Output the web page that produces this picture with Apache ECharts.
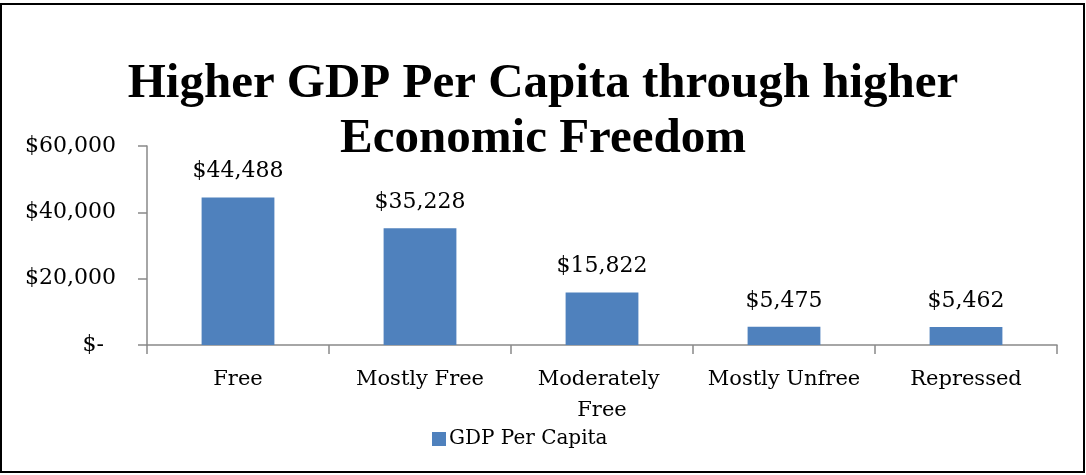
<!DOCTYPE html>
<html>
<head>
<meta charset="utf-8">
<script src="https://cdn.jsdelivr.net/npm/echarts@6/dist/echarts.min.js"></script>
<style>
html,body{margin:0;padding:0;background:#fff;}
#c{width:1086px;height:475px;}
</style>
</head>
<body>
<div id="c"></div>
<script>
const titleText = "Higher GDP Per Capita through higher\nEconomic Freedom";
const categories = ["Free", "Mostly Free", "Moderately Free", "Mostly Unfree", "Repressed"];
const seriesName = "GDP Per Capita";
const gdpPerCapita = [44488, 35228, 15822, 5475, 5462];
const yTicks = [0, 20000, 40000, 60000];

function money(v) {
  if (v === 0) return "$-";
  return "$" + v.toLocaleString("en-US");
}

const chart = echarts.init(document.getElementById("c"));
chart.setOption({
  animation: false,
  backgroundColor: "#fff",
  graphic: [{
    type: "rect",
    shape: { x: 1, y: 4, width: 1083, height: 468 },
    style: { fill: "none", stroke: "#000", lineWidth: 2 },
    silent: true
  }],
  title: {
    text: titleText,
    left: "center",
    top: 52,
    textStyle: {
      fontFamily: "Liberation Serif",
      fontWeight: "bold",
      fontSize: 49,
      lineHeight: 55,
      color: "#000"
    }
  },
  legend: {
    data: [seriesName],
    left: 427,
    top: 424,
    itemWidth: 14,
    itemHeight: 14,
    itemGap: 5,
    icon: "rect",
    textStyle: { fontFamily: "DejaVu Serif", fontSize: 20, color: "#000", padding: [0, 0, 0, -2] }
  },
  grid: { left: 147, right: 29, top: 146, bottom: 130, containLabel: false },
  xAxis: {
    type: "category",
    data: categories,
    axisLine: { lineStyle: { color: "#898989", width: 1.5 } },
    axisTick: { show: true, length: 9, lineStyle: { color: "#898989", width: 1.5 } },
    axisLabel: {
      fontFamily: "DejaVu Serif", fontSize: 21, color: "#000",
      margin: 19, lineHeight: 31, width: 170, overflow: "break", interval: 0
    }
  },
  yAxis: {
    type: "value",
    min: 0, max: 60000, interval: 20000,
    splitLine: { show: false },
    axisLine: { show: true, lineStyle: { color: "#898989", width: 1.5 } },
    axisTick: { show: true, length: 9, lineStyle: { color: "#898989", width: 1.5 } },
    axisLabel: {
      fontFamily: "DejaVu Serif", fontSize: 22, color: "#000", margin: 31,
      formatter: function (v) { return v === 0 ? "{z|$-}" : money(v); },
      rich: { z: { fontFamily: "DejaVu Serif", fontSize: 22, color: "#000", padding: [0, 12, 0, 0] } }
    }
  },
  series: [{
    name: seriesName,
    type: "bar",
    data: gdpPerCapita,
    barCategoryGap: "60%",
    itemStyle: { color: "#4F81BD" },
    label: {
      show: true, position: "top", distance: 15,
      fontFamily: "DejaVu Serif", fontSize: 22, color: "#000",
      formatter: function (p) { return money(p.value); }
    }
  }]
});
</script>
</body>
</html>
